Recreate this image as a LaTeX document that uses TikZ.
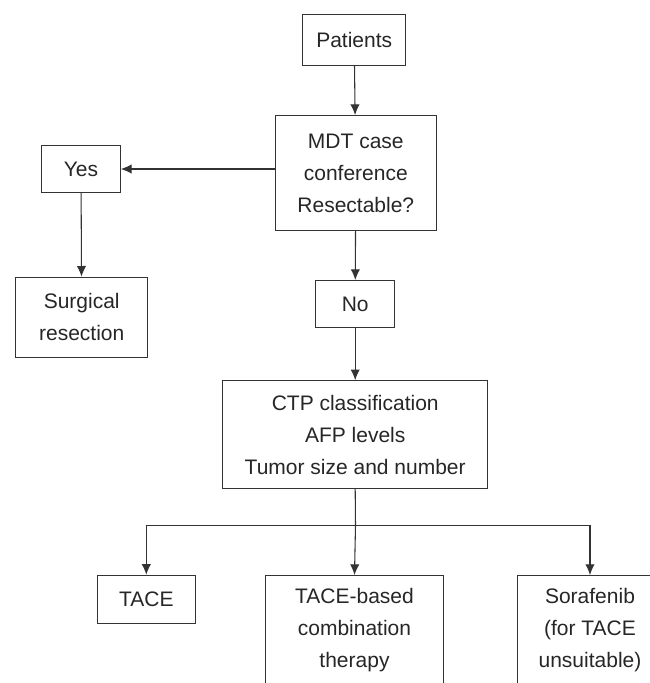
\documentclass[tikz,border=0pt]{standalone}
\usepackage{fontspec}
\setmainfont{Liberation Sans}
\usetikzlibrary{arrows.meta}

\begin{document}
\begin{tikzpicture}[x=0.75pt,y=-0.75pt]
\useasboundingbox (0,0) rectangle (650,683);
\clip (0,0) rectangle (650,683);
\tikzstyle{box}=[draw=black!80, line width=0.8pt, align=center, inner sep=0pt, text=black!85, font=\fontsize{15.75}{24}\selectfont]
\tikzstyle{link}=[draw=black!80, line width=0.8pt, -{Latex[length=8pt,width=7pt]}]

\node[box, minimum width=77pt, minimum height=38.5pt] (patients) at (354.2,40) {Patients};
\node[box, minimum width=121pt, minimum height=86pt] (mdt) at (355.8,172.9) {MDT case\\conference\\Resectable?};
\node[box, minimum width=59pt, minimum height=35.5pt] (yes) at (81,169) {Yes};
\node[box, minimum width=99pt, minimum height=60pt] (surgery) at (81.7,317.2) {Surgical\\resection};
\node[box, minimum width=59pt, minimum height=35.5pt] (no) at (355.2,304.2) {No};
\node[box, minimum width=199pt, minimum height=81pt] (ctp) at (355.2,434.7) {CTP classification\\AFP levels\\Tumor size and number};
\node[box, minimum width=73.5pt, minimum height=35.8pt] (tace) at (146.3,599.2) {TACE};
\node[box, minimum width=134pt, minimum height=82pt] (combo) at (354.5,630.2) {TACE-based\\combination\\therapy};
\node[box, minimum width=108.5pt, minimum height=82pt] (sorafenib) at (590,630.2) {Sorafenib\\(for TACE\\unsuitable)};

\draw[link] (patients) -- (mdt);
\draw[link] (yes.east -| mdt.west) -- (yes.east);
\draw[link] (yes) -- (surgery);
\draw[link] (mdt) -- (no);
\draw[link] (no) -- (ctp);

\coordinate (split) at (355.5,525.5);
\draw[draw=black!80, line width=0.8pt] (ctp.south) -- (split);
\draw[link] (split) -| (tace.north);
\draw[link] (split) -- (combo.north);
\draw[link] (split) -| (sorafenib.north);
\end{tikzpicture}
\end{document}
